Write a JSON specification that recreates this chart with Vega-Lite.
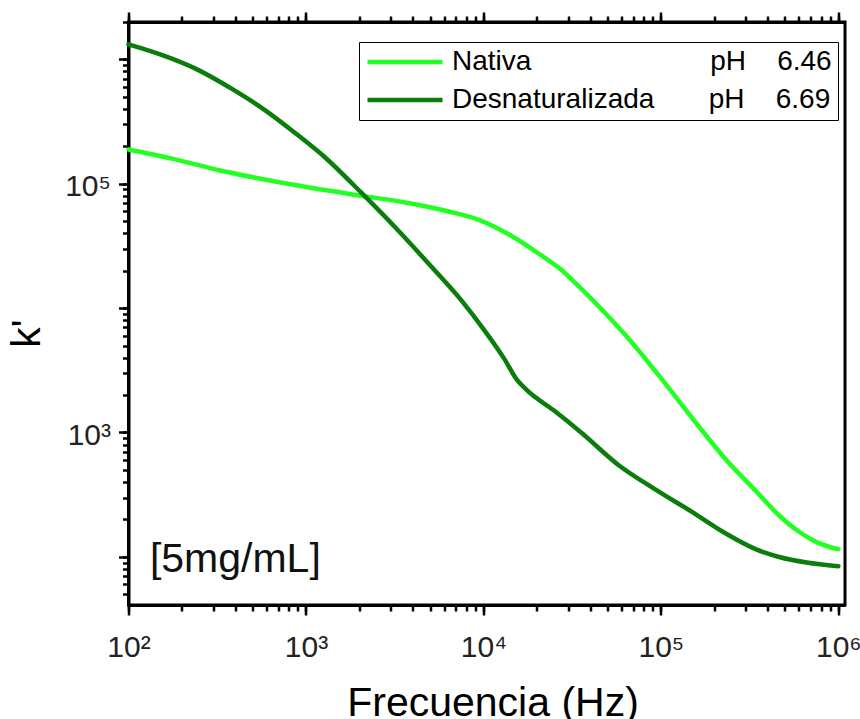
{
  "$schema": "https://vega.github.io/schema/vega-lite/v6.json",
  "width": 716.5,
  "height": 583,
  "autosize": {"type": "none"},
  "padding": {"left": 128.5, "top": 22, "right": 15, "bottom": 114},
  "background": "white",
  "config": {
    "font": "Liberation Sans",
    "view": {"stroke": "black", "strokeWidth": 3},
    "axis": {
      "domainColor": "black",
      "domainWidth": 3,
      "tickColor": "black",
      "tickWidth": 2.5,
      "tickSize": 6,
      "grid": false,
      "labelFont": "Liberation Sans",
      "labelFontSize": 30,
      "labelColor": "#222",
      "labelOverlap": false,
      "labelFlush": false,
      "labelBound": false,
      "titleFont": "Liberation Sans",
      "titleFontSize": 41,
      "titleFontWeight": "normal",
      "titleColor": "black"
    }
  },
  "data": {
    "values": [
      {"serie": "Nativa", "f": 100, "k": 188600},
      {"serie": "Nativa", "f": 178, "k": 158500},
      {"serie": "Nativa", "f": 324, "k": 128600},
      {"serie": "Nativa", "f": 587, "k": 108100},
      {"serie": "Nativa", "f": 1066, "k": 92900},
      {"serie": "Nativa", "f": 2050, "k": 80200},
      {"serie": "Nativa", "f": 3500, "k": 71300},
      {"serie": "Nativa", "f": 6360, "k": 59900},
      {"serie": "Nativa", "f": 9100, "k": 52200},
      {"serie": "Nativa", "f": 13800, "k": 39400},
      {"serie": "Nativa", "f": 20900, "k": 26900},
      {"serie": "Nativa", "f": 26600, "k": 21100},
      {"serie": "Nativa", "f": 33700, "k": 15450},
      {"serie": "Nativa", "f": 48300, "k": 9170},
      {"serie": "Nativa", "f": 69000, "k": 5250},
      {"serie": "Nativa", "f": 98600, "k": 2810},
      {"serie": "Nativa", "f": 158800, "k": 1180},
      {"serie": "Nativa", "f": 227000, "k": 630},
      {"serie": "Nativa", "f": 344000, "k": 337},
      {"serie": "Nativa", "f": 464000, "k": 215},
      {"serie": "Nativa", "f": 589000, "k": 162},
      {"serie": "Nativa", "f": 748000, "k": 132},
      {"serie": "Nativa", "f": 1000000, "k": 115},
      {"serie": "Desnaturalizada", "f": 100, "k": 1322000},
      {"serie": "Desnaturalizada", "f": 158, "k": 1073000},
      {"serie": "Desnaturalizada", "f": 240, "k": 840000},
      {"serie": "Desnaturalizada", "f": 387, "k": 574000},
      {"serie": "Desnaturalizada", "f": 587, "k": 391500},
      {"serie": "Desnaturalizada", "f": 891, "k": 248900},
      {"serie": "Desnaturalizada", "f": 1273, "k": 164200},
      {"serie": "Desnaturalizada", "f": 2050, "k": 84800},
      {"serie": "Desnaturalizada", "f": 3300, "k": 42300},
      {"serie": "Desnaturalizada", "f": 5020, "k": 22000},
      {"serie": "Desnaturalizada", "f": 7610, "k": 11280},
      {"serie": "Desnaturalizada", "f": 10250, "k": 6475},
      {"serie": "Desnaturalizada", "f": 13000, "k": 3980},
      {"serie": "Desnaturalizada", "f": 15550, "k": 2620},
      {"serie": "Desnaturalizada", "f": 17500, "k": 2200},
      {"serie": "Desnaturalizada", "f": 25000, "k": 1500},
      {"serie": "Desnaturalizada", "f": 35800, "k": 990},
      {"serie": "Desnaturalizada", "f": 57600, "k": 548},
      {"serie": "Desnaturalizada", "f": 92900, "k": 349},
      {"serie": "Desnaturalizada", "f": 149600, "k": 230},
      {"serie": "Desnaturalizada", "f": 227000, "k": 157},
      {"serie": "Desnaturalizada", "f": 344000, "k": 115},
      {"serie": "Desnaturalizada", "f": 464000, "k": 99.8},
      {"serie": "Desnaturalizada", "f": 663000, "k": 90},
      {"serie": "Desnaturalizada", "f": 1000000, "k": 84}
    ]
  },
  "layer": [
    {
      "mark": {"type": "line", "strokeWidth": 4.5, "interpolate": "monotone", "strokeCap": "round"},
      "encoding": {
        "x": {
          "field": "f",
          "type": "quantitative",
          "scale": {"type": "log", "domain": [100, 1090000], "nice": false},
          "axis": {
            "orient": "bottom",
            "title": "Frecuencia (Hz)",
            "values": [100, 200, 300, 400, 500, 600, 700, 800, 900, 1000, 2000, 3000, 4000, 5000, 6000, 7000, 8000, 9000, 10000, 20000, 30000, 40000, 50000, 60000, 70000, 80000, 90000, 100000, 200000, 300000, 400000, 500000, 600000, 700000, 800000, 900000, 1000000],
            "labelExpr": "datum.value == 100 ? '10²' : datum.value == 1000 ? '10³' : datum.value == 10000 ? '10⁴' : datum.value == 100000 ? '10⁵' : datum.value == 1000000 ? '10⁶' : ''",
            "labelPadding": 21,
            "titleX": 364,
            "titleY": 110,
            "titleAlign": "center",
            "titleBaseline": "alphabetic"
          }
        },
        "y": {
          "field": "k",
          "type": "quantitative",
          "scale": {"type": "log", "domain": [41, 2000000], "nice": false},
          "axis": {
            "orient": "left",
            "title": "k'",
            "values": [50, 60, 70, 80, 90, 100, 200, 300, 400, 500, 600, 700, 800, 900, 1000, 2000, 3000, 4000, 5000, 6000, 7000, 8000, 9000, 10000, 20000, 30000, 40000, 50000, 60000, 70000, 80000, 90000, 100000, 200000, 300000, 400000, 500000, 600000, 700000, 800000, 900000, 1000000, 2000000],
            "labelExpr": "datum.value == 1000 ? '10³' : datum.value == 100000 ? '10⁵' : ''",
            "labelPadding": 12,
            "labelOffset": 3,
            "titleX": -101,
            "titleY": 311,
            "titleAngle": -90,
            "titleAlign": "center",
            "titleBaseline": "middle"
          }
        },
        "color": {
          "field": "serie",
          "type": "nominal",
          "scale": {"domain": ["Nativa", "Desnaturalizada"], "range": ["#22ff22", "#0b7d0b"]},
          "legend": {
            "title": null,
            "orient": "none",
            "legendX": 230.5,
            "legendY": 20,
            "strokeColor": "black",
            "fillColor": "white",
            "padding": 6,
            "symbolType": "stroke",
            "symbolSize": 5625,
            "symbolStrokeWidth": 4.5,
            "clipHeight": 28,
            "rowPadding": 10,
            "labelOffset": 7,
            "labelFont": "Liberation Sans",
            "labelFontSize": 28,
            "labelColor": "black",
            "labelLimit": 700,
            "labelExpr": "datum.label == 'Nativa' ? 'Nativa\u00a0\u00a0\u00a0\u00a0\u00a0\u00a0\u00a0\u00a0\u00a0\u00a0\u00a0\u00a0\u00a0\u00a0\u00a0\u00a0\u00a0\u00a0\u00a0\u00a0\u00a0\u00a0\u00a0pH\u00a0\u00a0\u00a0\u00a06.46' : 'Desnaturalizada\u00a0\u00a0\u00a0\u00a0\u00a0\u00a0\u00a0pH\u00a0\u00a0\u00a0\u00a06.69'"
          }
        }
      }
    },
    {
      "data": {"values": [{}]},
      "mark": {"type": "text", "align": "left", "baseline": "alphabetic", "font": "Liberation Sans", "fontSize": 41, "color": "#111"},
      "encoding": {
        "x": {
          "datum": 132,
          "type": "quantitative",
          "scale": {"type": "log", "domain": [100, 1090000], "nice": false},
          "axis": {
            "orient": "top",
            "title": null,
            "labels": false,
            "values": [100, 200, 300, 400, 500, 600, 700, 800, 900, 1000, 2000, 3000, 4000, 5000, 6000, 7000, 8000, 9000, 10000, 20000, 30000, 40000, 50000, 60000, 70000, 80000, 90000, 100000, 200000, 300000, 400000, 500000, 600000, 700000, 800000, 900000, 1000000]
          }
        },
        "y": {
          "datum": 75.7,
          "type": "quantitative",
          "scale": {"type": "log", "domain": [41, 2000000], "nice": false},
          "axis": null
        },
        "text": {"value": "[5mg/mL]"}
      }
    },
    {
      "data": {"values": [{}]},
      "mark": {"type": "text"},
      "encoding": {
        "x": {
          "datum": 1000,
          "type": "quantitative",
          "scale": {"type": "log", "domain": [100, 1090000], "nice": false},
          "axis": {"orient": "bottom", "title": null, "labels": false, "domain": false, "tickSize": 10, "values": [100, 1000, 10000, 100000, 1000000]}
        },
        "y": {
          "datum": 1000,
          "type": "quantitative",
          "scale": {"type": "log", "domain": [41, 2000000], "nice": false},
          "axis": {"orient": "left", "title": null, "labels": false, "domain": false, "tickSize": 10, "values": [100, 1000, 10000, 100000, 1000000]}
        },
        "text": {"value": ""}
      }
    },
    {
      "data": {"values": [{}]},
      "mark": {"type": "text"},
      "encoding": {
        "x": {
          "datum": 1000,
          "type": "quantitative",
          "scale": {"type": "log", "domain": [100, 1090000], "nice": false},
          "axis": {"orient": "top", "title": null, "labels": false, "domain": false, "tickSize": 10, "values": [100, 1000, 10000, 100000, 1000000]}
        },
        "y": {
          "datum": 1000,
          "type": "quantitative",
          "scale": {"type": "log", "domain": [41, 2000000], "nice": false},
          "axis": null
        },
        "text": {"value": ""}
      }
    }
  ],
  "resolve": {"scale": {"x": "shared", "y": "shared"}, "axis": {"x": "independent", "y": "independent"}}
}
